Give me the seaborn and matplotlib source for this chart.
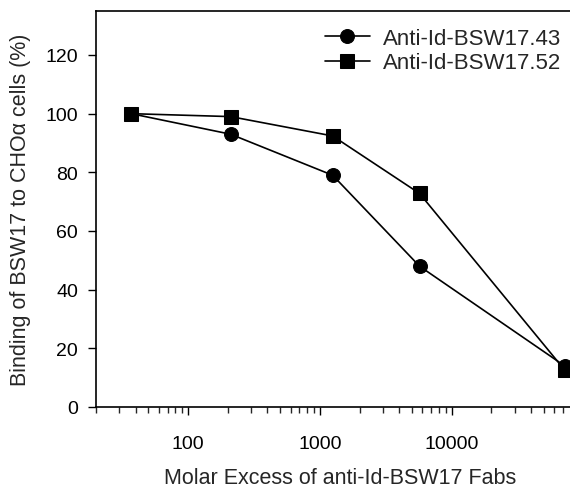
import numpy as np
import pandas as pd
import seaborn as sns
import matplotlib.pyplot as plt
from matplotlib.ticker import LogLocator, NullFormatter, FixedLocator

# values
molar_excess = [37, 210, 1250, 5700, 72000]
bsw17_43 = [100, 93, 79, 48, 14]
bsw17_52 = [100, 99, 92.4, 72.8, 12.6]
series_names = ["Anti-Id-BSW17.43", "Anti-Id-BSW17.52"]

df = pd.DataFrame({
    "excess": molar_excess * 2,
    "binding": bsw17_43 + bsw17_52,
    "antibody": [series_names[0]] * 5 + [series_names[1]] * 5,
})

sns.set_style("ticks")
plt.rcParams['font.family'] = ['Liberation Sans', 'DejaVu Sans']

fig = plt.figure(figsize=(5.7, 4.89), dpi=100)
ax = fig.add_axes([96 / 570, 81 / 489, 487.5 / 570, 396 / 489])

sns.lineplot(data=df, x="excess", y="binding", style="antibody",
             markers={series_names[0]: "o", series_names[1]: "s"},
             dashes=False, color="black", linewidth=1.2,
             markersize=10, markeredgecolor="black", ax=ax)

ax.set_xscale("log")
ax.set_xlim(20, 100000)
ax.set_ylim(0, 135)
ax.set_yticks([0, 20, 40, 60, 80, 100, 120])
ax.xaxis.set_major_locator(FixedLocator([100, 1000, 10000]))
ax.set_xticklabels(["100", "1000", "10000"])
ax.xaxis.set_minor_locator(LogLocator(base=10, subs=np.arange(2, 10)))
ax.xaxis.set_minor_formatter(NullFormatter())
ax.tick_params(axis="both", which="major", length=6, width=1, labelsize=14, colors="black")
ax.tick_params(axis="x", which="major", pad=14)
ax.tick_params(axis="y", which="major", pad=7)
ax.tick_params(axis="x", which="minor", length=4, width=1)

for s in ax.spines.values():
    s.set_linewidth(1.2)
    s.set_color("black")

ax.set_xlabel("Molar Excess of anti-Id-BSW17 Fabs", fontsize=15.5, labelpad=11)
ax.set_ylabel("Binding of BSW17 to CHO\u03b1 cells (%)", fontsize=15.5, labelpad=10)

leg = ax.legend(loc="upper left", bbox_to_anchor=(0.47, 0.957), frameon=False,
                fontsize=16, handlelength=2.0, labelspacing=0.15,
                borderpad=0, borderaxespad=0, handletextpad=0.6)

fig.savefig("out.png", dpi=100)
